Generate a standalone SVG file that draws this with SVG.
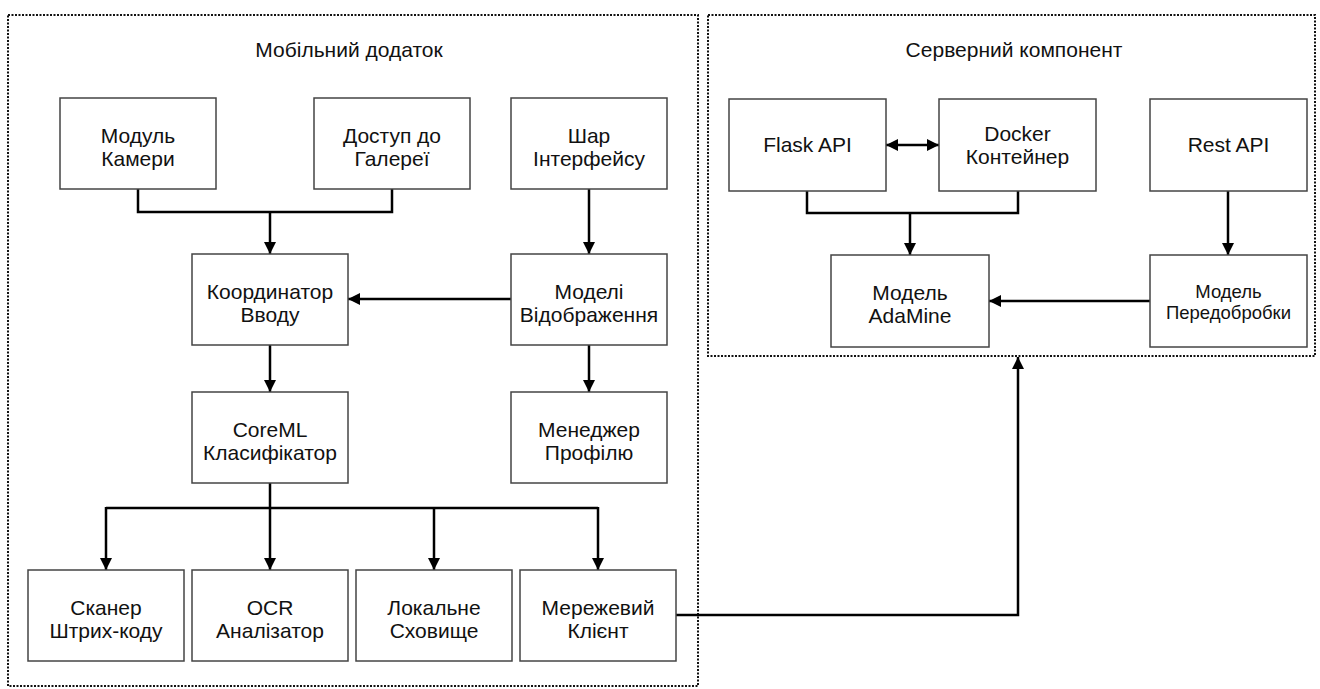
<svg xmlns="http://www.w3.org/2000/svg" width="1320" height="689" viewBox="0 0 1320 689">
<defs>
<style>
.container{fill:none;stroke:#111;stroke-width:2;stroke-dasharray:2 1.5}
.box{fill:#fff;stroke:#444;stroke-width:1.5}
.lbl{font-family:"Liberation Sans",Arial,sans-serif;font-size:21px;fill:#111;text-anchor:middle}
.sm{font-size:18.5px}
.conn{fill:none;stroke:#000;stroke-width:2.5}
</style>
<marker id="arr" markerUnits="userSpaceOnUse" markerWidth="12" markerHeight="12" viewBox="0 0 12 12" refX="12" refY="6" orient="auto">
<path d="M0,0 L12,6 L0,12 z" fill="#000"/>
</marker>
<marker id="arrS" markerUnits="userSpaceOnUse" markerWidth="12" markerHeight="12" viewBox="0 0 12 12" refX="0" refY="6" orient="auto">
<path d="M12,0 L0,6 L12,12 z" fill="#000"/>
</marker>
</defs>
<rect width="1320" height="689" fill="#fff"/>

<g id="mobile-app">
<rect class="container" x="8" y="15" width="690" height="671"/>
<text class="lbl" x="349" y="57">Мобільний додаток</text>
</g>
<g id="server">
<rect class="container" x="708" y="15" width="607" height="341"/>
<text class="lbl" x="1014" y="57">Серверний компонент</text>
</g>

<g id="connectors">
<path class="conn" d="M138,189 V212 H392 V189"/>
<path class="conn" d="M270,212 V254" marker-end="url(#arr)"/>
<path class="conn" d="M589,189 V254" marker-end="url(#arr)"/>
<path class="conn" d="M511,299 H348" marker-end="url(#arr)"/>
<path class="conn" d="M270,345 V392" marker-end="url(#arr)"/>
<path class="conn" d="M589,345 V392" marker-end="url(#arr)"/>
<path class="conn" d="M270,483 V508 M106,508 H598"/>
<path class="conn" d="M106,507 V570" marker-end="url(#arr)"/>
<path class="conn" d="M270,508 V570" marker-end="url(#arr)"/>
<path class="conn" d="M434,507 V570" marker-end="url(#arr)"/>
<path class="conn" d="M598,507 V570" marker-end="url(#arr)"/>
<path class="conn" d="M676,615 H1018 V357" marker-end="url(#arr)"/>
<path class="conn" d="M886,145 H939" marker-start="url(#arrS)" marker-end="url(#arr)"/>
<path class="conn" d="M807,191 V213 H1018 V191"/>
<path class="conn" d="M910,213 V255" marker-end="url(#arr)"/>
<path class="conn" d="M1228,191 V255" marker-end="url(#arr)"/>
<path class="conn" d="M1150,301 H989" marker-end="url(#arr)"/>
</g>

<g id="camera"><rect class="box" x="60" y="98" width="156" height="91"/><text class="lbl" x="138" y="143">Модуль</text><text class="lbl" x="138" y="166">Камери</text></g>
<g id="gallery"><rect class="box" x="314" y="98" width="156" height="91"/><text class="lbl" x="392" y="143">Доступ до</text><text class="lbl" x="392" y="166">Галереї</text></g>
<g id="ui-layer"><rect class="box" x="511" y="98" width="156" height="91"/><text class="lbl" x="589" y="143">Шар</text><text class="lbl" x="589" y="166">Інтерфейсу</text></g>
<g id="input-coordinator"><rect class="box" x="192" y="254" width="156" height="91"/><text class="lbl" x="270" y="299">Координатор</text><text class="lbl" x="270" y="322">Вводу</text></g>
<g id="view-models"><rect class="box" x="511" y="254" width="156" height="91"/><text class="lbl" x="589" y="299">Моделі</text><text class="lbl" x="589" y="322">Відображення</text></g>
<g id="coreml"><rect class="box" x="192" y="392" width="156" height="91"/><text class="lbl" x="270" y="437">CoreML</text><text class="lbl" x="270" y="460">Класифікатор</text></g>
<g id="profile-manager"><rect class="box" x="511" y="392" width="156" height="91"/><text class="lbl" x="589" y="437">Менеджер</text><text class="lbl" x="589" y="460">Профілю</text></g>
<g id="barcode"><rect class="box" x="28" y="570" width="156" height="91"/><text class="lbl" x="106" y="615">Сканер</text><text class="lbl" x="106" y="638">Штрих-коду</text></g>
<g id="ocr"><rect class="box" x="192" y="570" width="156" height="91"/><text class="lbl" x="270" y="615">OCR</text><text class="lbl" x="270" y="638">Аналізатор</text></g>
<g id="local-storage"><rect class="box" x="356" y="570" width="156" height="91"/><text class="lbl" x="434" y="615">Локальне</text><text class="lbl" x="434" y="638">Сховище</text></g>
<g id="network-client"><rect class="box" x="520" y="570" width="156" height="91"/><text class="lbl" x="598" y="615">Мережевий</text><text class="lbl" x="598" y="638">Клієнт</text></g>

<g id="flask-api"><rect class="box" x="729" y="99" width="157" height="92"/><text class="lbl" x="807.5" y="152">Flask API</text></g>
<g id="docker"><rect class="box" x="939" y="99" width="157" height="92"/><text class="lbl" x="1017.5" y="141">Docker</text><text class="lbl" x="1017.5" y="164">Контейнер</text></g>
<g id="rest-api"><rect class="box" x="1150" y="99" width="157" height="92"/><text class="lbl" x="1228.5" y="152">Rest API</text></g>
<g id="adamine"><rect class="box" x="831" y="255" width="158" height="92"/><text class="lbl" x="910" y="300">Модель</text><text class="lbl" x="910" y="323">AdaMine</text></g>
<g id="preprocessing"><rect class="box" x="1150" y="255" width="157" height="92"/><text class="lbl sm" x="1228.5" y="298">Модель</text><text class="lbl sm" x="1228.5" y="319">Передобробки</text></g>
</svg>
